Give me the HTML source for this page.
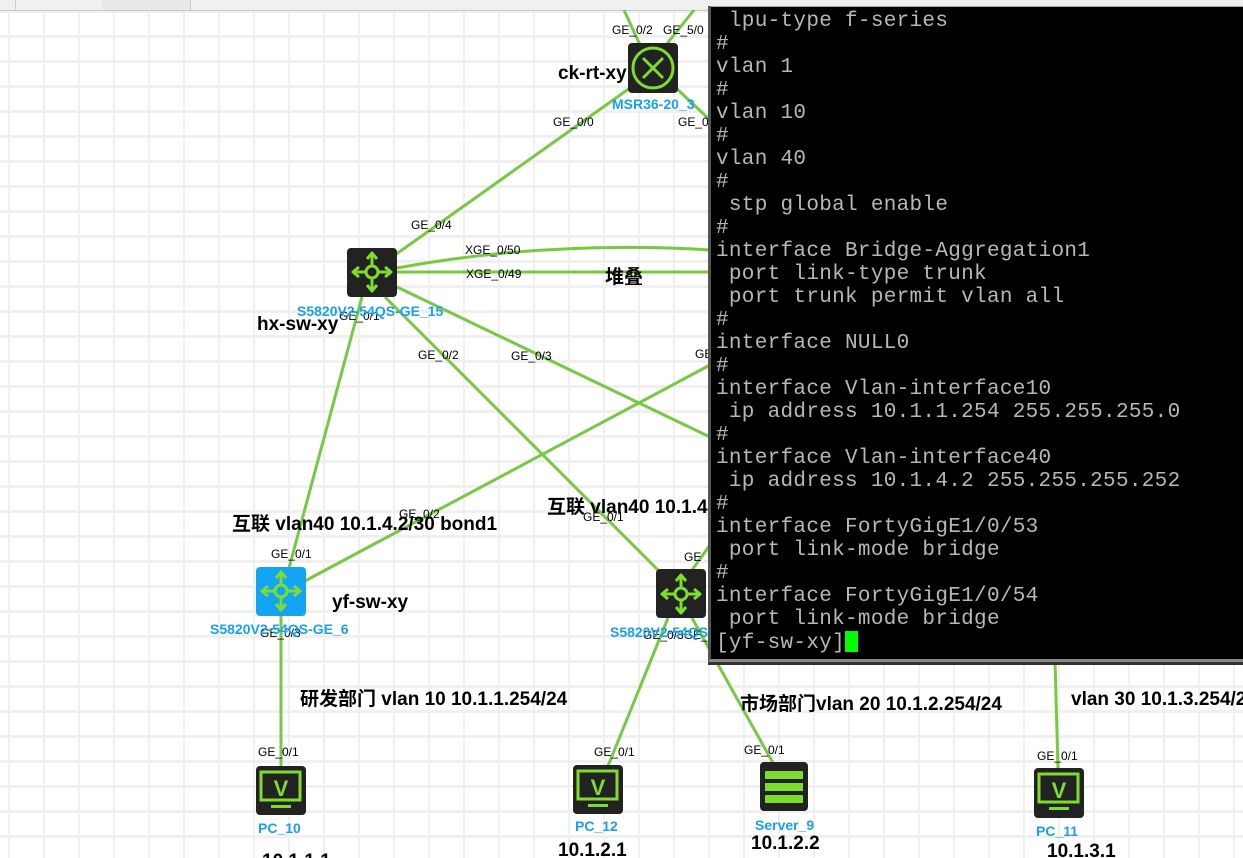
<!DOCTYPE html>
<html><head><meta charset="utf-8"><style>
html,body{margin:0;padding:0;width:1243px;height:858px;overflow:hidden;background:#fff}
.bg{position:absolute;left:0;top:0;width:1243px;height:858px;
background-image:linear-gradient(to right,#f0f0f0 0,#f0f0f0 2px,transparent 2px),linear-gradient(to bottom,#f0f0f0 0,#f0f0f0 3px,transparent 3px);
background-size:35px 25px;background-position:8px 10px}
svg{position:absolute;left:0;top:0}
.term{position:absolute;left:708px;top:6px;width:535px;height:653px;background:#000;border-left:3px solid #555;border-bottom:3px solid #888;box-shadow:0 3px 0 #333}
.term pre{margin:0;padding:4px 0 0 5px;font-family:"Liberation Mono",monospace;font-size:21px;line-height:23px;color:#b8b8b0;letter-spacing:0.3px}
.cur{display:inline-block;width:13px;height:21px;background:#00ff00;vertical-align:-4px}
</style></head><body>
<div class="bg"></div>
<div style="position:absolute;left:0;top:0;width:720px;height:10px;background:#f0f0f0;border-bottom:1px solid #c8c8c8"></div>
<div style="position:absolute;left:15px;top:0;width:87px;height:10px;border-left:1px solid #ccc;border-right:1px solid #ccc"></div>
<div style="position:absolute;left:102px;top:0;width:88px;height:10px;border-right:1px solid #ccc;background:#e8e8e8"></div>
<svg width="1243" height="858" font-family="Liberation Sans, Noto Sans CJK SC, sans-serif">
<defs>
<g id="sw" fill="none" stroke="#7ddc2c" stroke-width="3">
<circle cx="0" cy="0" r="6"/><path d="M0 -6V-18M0 6V18M-6 0H-18M6 0H18"/>
<path d="M-5 -13L0 -19L5 -13M-5 13L0 19L5 13M-13 -5L-19 0L-13 5M13 -5L19 0L13 5" stroke-linejoin="round"/>
</g>
</defs>
<g stroke="#77c843" stroke-width="3" fill="none">
<line x1="640" y1="45" x2="624" y2="10"/>
<line x1="666" y1="45" x2="694" y2="10"/>
<line x1="630" y1="88" x2="395" y2="255"/>
<line x1="676" y1="88" x2="710" y2="120"/>
<path d="M397 268 Q550 240 710 250"/>
<line x1="397" y1="272" x2="710" y2="272"/>
<line x1="362" y1="297" x2="289" y2="568"/>
<line x1="385" y1="297" x2="660" y2="572"/>
<line x1="397" y1="287" x2="710" y2="437"/>
<line x1="303" y1="582" x2="710" y2="365"/>
<line x1="281" y1="616" x2="281" y2="767"/>
<line x1="668" y1="618" x2="608" y2="766"/>
<line x1="692" y1="618" x2="773" y2="763"/>
<line x1="692" y1="570" x2="710" y2="545"/>
<line x1="1055" y1="660" x2="1058" y2="769"/>
</g>
<rect x="628" y="43" width="50" height="50" rx="4" fill="#222"/>
<circle cx="653" cy="68" r="20" fill="none" stroke="#7ddc2c" stroke-width="3"/>
<g stroke="#7ddc2c" stroke-width="3"><line x1="643" y1="58" x2="663" y2="78"/><line x1="663" y1="58" x2="643" y2="78"/></g>
<rect x="347" y="248" width="50" height="49" rx="4" fill="#222"/>
<rect x="256" y="567" width="50" height="49" rx="4" fill="#14a4f4"/>
<rect x="656" y="569" width="50" height="49" rx="4" fill="#222"/>
<use href="#sw" x="372" y="272"/><use href="#sw" x="281" y="591"/><use href="#sw" x="681" y="594"/>
<g>
<rect x="256" y="766" width="50" height="49" rx="4" fill="#222"/>
<rect x="261" y="772" width="39" height="28" fill="none" stroke="#7ddc2c" stroke-width="3"/>
<text x="281" y="796" font-size="22" font-weight="bold" fill="#7ddc2c" text-anchor="middle">V</text>
<rect x="271" y="805" width="20" height="3" fill="#7ddc2c"/>
<rect x="573" y="765" width="50" height="49" rx="4" fill="#222"/>
<rect x="578" y="771" width="39" height="28" fill="none" stroke="#7ddc2c" stroke-width="3"/>
<text x="598" y="795" font-size="22" font-weight="bold" fill="#7ddc2c" text-anchor="middle">V</text>
<rect x="588" y="804" width="20" height="3" fill="#7ddc2c"/>
<rect x="1034" y="768" width="50" height="50" rx="4" fill="#222"/>
<rect x="1039" y="774" width="39" height="28" fill="none" stroke="#7ddc2c" stroke-width="3"/>
<text x="1059" y="798" font-size="22" font-weight="bold" fill="#7ddc2c" text-anchor="middle">V</text>
<rect x="1049" y="807" width="20" height="3" fill="#7ddc2c"/>
<rect x="760" y="762" width="48" height="49" rx="4" fill="#222"/>
<rect x="765" y="771" width="38" height="8" fill="#7ddc2c"/>
<rect x="765" y="783" width="38" height="8" fill="#7ddc2c"/>
<rect x="765" y="795" width="38" height="8" fill="#7ddc2c"/>
</g>
<g font-size="12" fill="#000">
<text x="612" y="34">GE_0/2</text><text x="663" y="34">GE_5/0</text>
<text x="553" y="126">GE_0/0</text><text x="678" y="126">GE_0</text>
<text x="411" y="229">GE_0/4</text>
<text x="465" y="254">XGE_0/50</text><text x="466" y="278">XGE_0/49</text>
<text x="339" y="320">GE_0/1</text>
<text x="418" y="359">GE_0/2</text><text x="511" y="360">GE_0/3</text>
<text x="695" y="358">GE</text>
<text x="399" y="518">GE_0/2</text>
<text x="583" y="521">GE_0/1</text>
<text x="271" y="558">GE_0/1</text><text x="684" y="561">GE</text>
<text x="260" y="637">GE_0/3</text><text x="643" y="639">GE_0/3GE_</text>
<text x="258" y="756">GE_0/1</text><text x="594" y="756">GE_0/1</text>
<text x="744" y="754">GE_0/1</text><text x="1037" y="760">GE_0/1</text>
</g>
<g font-size="14" font-weight="bold" fill="#18a0f0">
<text x="612" y="109">MSR36-20_3</text>
<text x="297" y="316">S5820V2-54QS-GE_15</text>
<text x="210" y="634">S5820V2-54QS-GE_6</text>
<text x="610" y="637">S5820V2-54QS</text>
<text x="258" y="833">PC_10</text><text x="575" y="831">PC_12</text>
<text x="755" y="830">Server_9</text><text x="1036" y="836">PC_11</text>
</g>
<g font-size="19" font-weight="bold" fill="#000">
<text x="558" y="79">ck-rt-xy</text>
<text x="257" y="330">hx-sw-xy</text>
<text x="332" y="608">yf-sw-xy</text>
<text x="605" y="283">堆叠</text>
<text x="232" y="530">互联 vlan40 10.1.4.2/30 bond1</text>
<text x="547" y="513">互联 vlan40 10.1.4</text>
<text x="300" y="705">研发部门 vlan 10 10.1.1.254/24</text>
<text x="740" y="710">市场部门vlan 20 10.1.2.254/24</text>
<text x="1071" y="705">vlan 30 10.1.3.254/2</text>
<text x="558" y="856">10.1.2.1</text>
<text x="751" y="849">10.1.2.2</text>
<text x="1047" y="857">10.1.3.1</text>
<text x="262" y="867">10.1.1.1</text>
</g>
</svg>
<div class="term"><pre> lpu-type f-series
#
vlan 1
#
vlan 10
#
vlan 40
#
 stp global enable
#
interface Bridge-Aggregation1
 port link-type trunk
 port trunk permit vlan all
#
interface NULL0
#
interface Vlan-interface10
 ip address 10.1.1.254 255.255.255.0
#
interface Vlan-interface40
 ip address 10.1.4.2 255.255.255.252
#
interface FortyGigE1/0/53
 port link-mode bridge
#
interface FortyGigE1/0/54
 port link-mode bridge
[yf-sw-xy]<span class="cur"></span></pre></div>
<div style="position:absolute;left:711px;top:0;width:532px;height:6px;background:#eee;border-bottom:1px solid #aaa"></div>
</body></html>
